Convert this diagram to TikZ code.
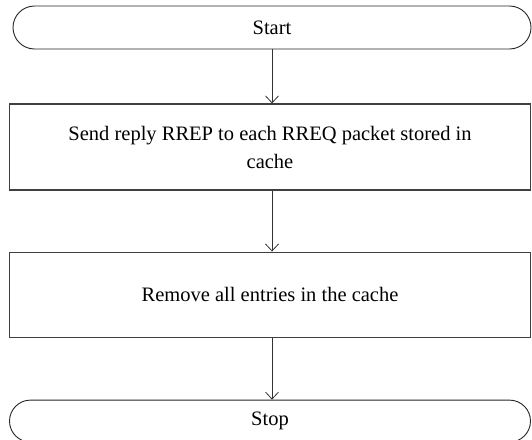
\documentclass[tikz,border=0pt]{standalone}
\usepackage{fontspec}
\setmainfont{Liberation Serif}
\usepackage{tikz}
\usetikzlibrary{arrows.meta,positioning,shapes.misc}
\tikzset{
  term/.style={rounded rectangle,draw=black!85,line width=0.9pt,
               minimum width=518pt,minimum height=43pt,inner sep=0pt,
               font=\fontsize{20.5}{24}\selectfont},
  proc/.style={rectangle,draw=black!75,line width=1.1pt,
               minimum width=521pt,minimum height=86pt,inner sep=0pt,
               align=center,font=\fontsize{20.5}{28}\selectfont},
  flow/.style={-{Straight Barb[length=7pt,width=13pt,line width=0.8pt]},
               line width=0.8pt,black!80},
}
\begin{document}
\begin{tikzpicture}[x=1pt,y=1pt,node distance=54pt]
  \useasboundingbox (0,0) rectangle (532,-439);
  \node[term] (start) at (272,-27.5) {Start};
  \node[proc,below=54pt of start,xshift=-2pt] (reply) {Send reply RREP to each RREQ packet stored in\\cache};
  \node[proc,below=61pt of reply,minimum height=85pt] (clear) {Remove all entries in the cache};
  \node[term,below=62pt of clear,minimum width=521pt,minimum height=42pt] (stop) {Stop};
  \draw[flow] (start.south)--(start.south |- reply.north);
  \draw[flow] (start.south |- reply.south)--(start.south |- clear.north);
  \draw[flow] (start.south |- clear.south)--(start.south |- stop.north);
\end{tikzpicture}
\end{document}
